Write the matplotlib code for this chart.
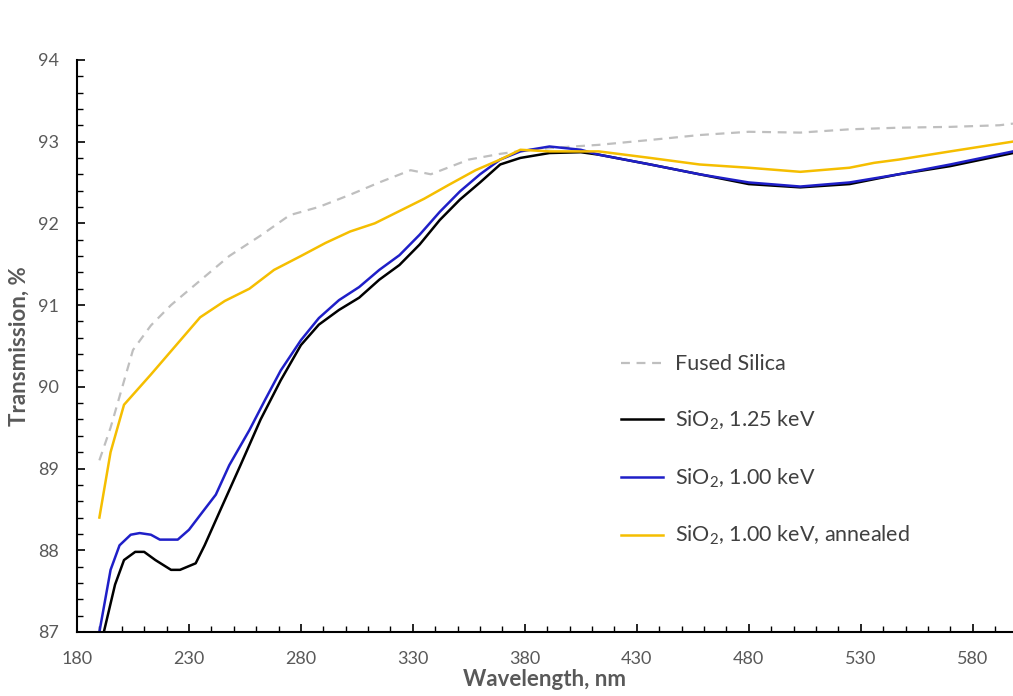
import matplotlib
matplotlib.use("Agg")
import matplotlib.pyplot as plt
import numpy as np

plt.rcParams['font.family'] = ['Lato', 'DejaVu Sans']
plt.rcParams['mathtext.fontset'] = 'custom'
plt.rcParams['mathtext.rm'] = 'Lato'
plt.rcParams['mathtext.it'] = 'Lato:italic'
plt.rcParams['mathtext.bf'] = 'Lato:bold'

# Fused silica (reference)
fs_x = [190, 195, 205, 213, 222, 235, 248, 262, 275, 288, 302, 315, 329, 338, 355, 369, 382, 396, 413, 436, 458, 480, 503, 525, 547, 570, 592, 598]
fs_y = [89.1, 89.5, 90.45, 90.75, 91.0, 91.3, 91.6, 91.85, 92.1, 92.2, 92.35, 92.5, 92.65, 92.6, 92.78, 92.85, 92.9, 92.93, 92.96, 93.02, 93.08, 93.12, 93.11, 93.15, 93.17, 93.18, 93.2, 93.22]

# SiO2, 1.25 keV
k125_x = [192, 197, 201, 206, 210, 215, 222, 226, 233, 237, 244, 253, 262, 271, 280, 288, 297, 306, 315, 324, 333, 342, 351, 360, 369, 378, 391, 405, 413, 436, 458, 480, 503, 525, 547, 570, 598]
k125_y = [87.0, 87.58, 87.88, 87.98, 87.98, 87.88, 87.76, 87.76, 87.84, 88.06, 88.49, 89.04, 89.6, 90.08, 90.51, 90.76, 90.94, 91.09, 91.31, 91.49, 91.74, 92.04, 92.29, 92.5, 92.72, 92.8, 92.86, 92.87, 92.84, 92.72, 92.6, 92.48, 92.44, 92.48, 92.6, 92.7, 92.86]

# SiO2, 1.00 keV
k100_x = [190, 195, 199, 204, 208, 213, 217, 222, 225, 230, 235, 242, 248, 257, 264, 271, 280, 288, 297, 306, 315, 324, 333, 342, 351, 360, 369, 378, 391, 405, 413, 436, 458, 480, 503, 525, 547, 570, 598]
k100_y = [87.0, 87.76, 88.06, 88.19, 88.21, 88.19, 88.13, 88.13, 88.13, 88.25, 88.43, 88.68, 89.04, 89.47, 89.84, 90.2, 90.57, 90.84, 91.06, 91.22, 91.43, 91.61, 91.86, 92.14, 92.39, 92.6, 92.78, 92.88, 92.94, 92.9, 92.84, 92.72, 92.6, 92.5, 92.45, 92.5, 92.6, 92.72, 92.88]

# SiO2, 1.00 keV, annealed
ann_x = [190, 195, 201, 213, 224, 235, 246, 257, 268, 280, 291, 302, 313, 324, 335, 346, 358, 369, 378, 391, 413, 436, 458, 480, 503, 525, 536, 547, 570, 598]
ann_y = [88.4, 89.2, 89.78, 90.15, 90.5, 90.85, 91.05, 91.2, 91.43, 91.6, 91.76, 91.9, 92.0, 92.15, 92.3, 92.47, 92.65, 92.78, 92.9, 92.88, 92.88, 92.8, 92.72, 92.68, 92.63, 92.68, 92.74, 92.78, 92.88, 93.0]

labels = ['Fused Silica', r'SiO$_2$, 1.25 keV', r'SiO$_2$, 1.00 keV', r'SiO$_2$, 1.00 keV, annealed']
x_ticks = [180, 230, 280, 330, 380, 430, 480, 530, 580]
y_ticks = [87, 88, 89, 90, 91, 92, 93, 94]

grey = '#595959'
fig = plt.figure(figsize=(10.13, 6.96), dpi=100)
ax = fig.add_axes([0.076, 0.092, 0.924, 0.822])

l1, = ax.plot(fs_x, fs_y, color='#BFBFBF', lw=1.6, ls=(0, (4, 3)), label=labels[0])
l2, = ax.plot(k125_x, k125_y, color='#000000', lw=1.8, label=labels[1])
l3, = ax.plot(k100_x, k100_y, color='#1F1FC8', lw=1.8, label=labels[2])
l4, = ax.plot(ann_x, ann_y, color='#F5BE00', lw=1.8, label=labels[3])

ax.set_xlim(180, 598)
ax.set_ylim(87, 94)
ax.set_xticks(x_ticks)
ax.set_yticks(y_ticks)
ax.set_xticks(np.arange(180, 600, 10), minor=True)
ax.set_yticks(np.arange(87, 94.01, 0.2), minor=True)
ax.tick_params(axis='both', which='major', direction='in', length=6, width=1.2, colors='#000000', labelcolor=grey, labelsize=13)
ax.tick_params(axis='both', which='minor', direction='in', length=4, width=1.0, colors='#000000')
ax.tick_params(axis='x', which='major', pad=14)
ax.tick_params(axis='y', which='major', pad=13)
for s in ['top', 'right']:
    ax.spines[s].set_visible(False)
for s in ['left', 'bottom']:
    ax.spines[s].set_linewidth(1.5)
    ax.spines[s].set_color('#000000')

ax.set_xlabel('Wavelength, nm', fontsize=16, fontweight='bold', color=grey, labelpad=1)
ax.set_ylabel('Transmission, %', fontsize=16, fontweight='bold', color=grey, labelpad=6)

leg = ax.legend(handles=[l1, l2, l3, l4], loc='upper left', bbox_to_anchor=(0.594, 0.519), bbox_transform=fig.transFigure,
                frameon=False, fontsize=15.5, labelspacing=1.6, handlelength=1.95, handletextpad=0.55)
for t in leg.get_texts():
    t.set_color('#404040')

fig.savefig('out.png', dpi=100)
